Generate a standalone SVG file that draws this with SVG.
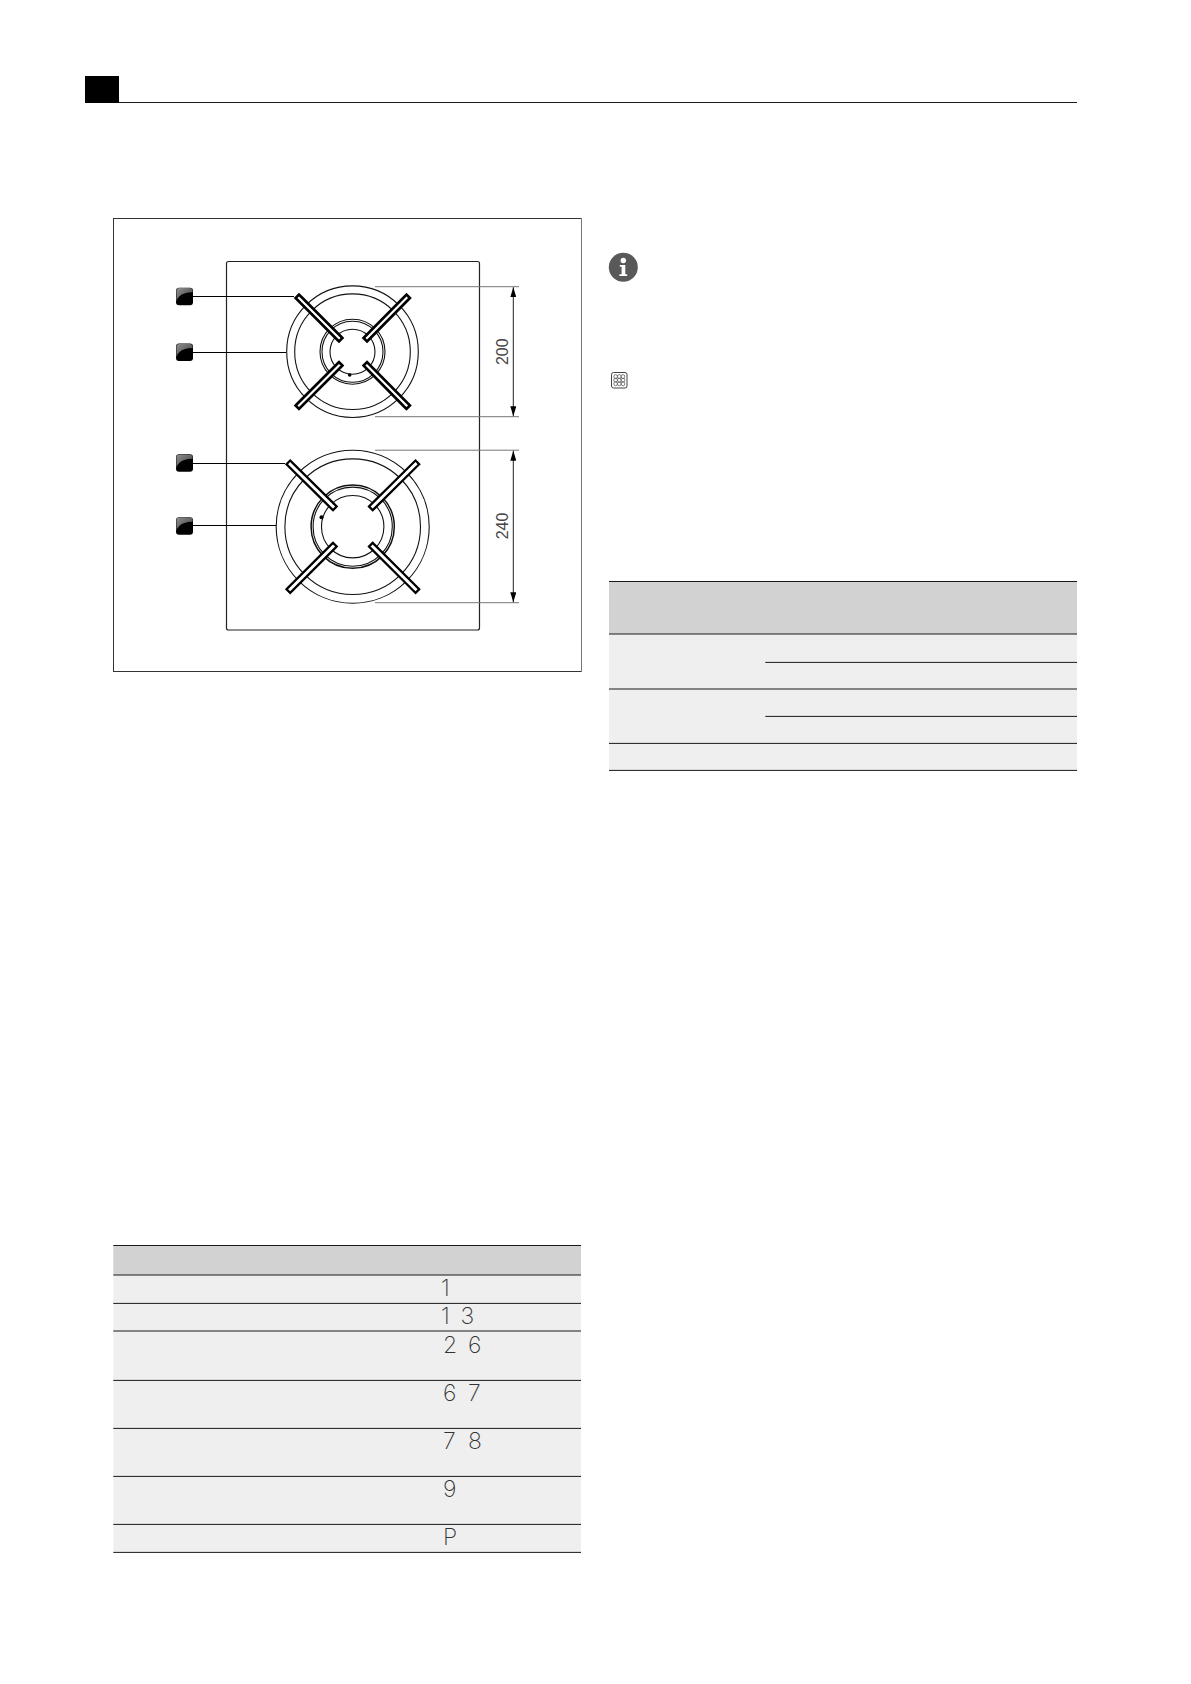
<svg xmlns="http://www.w3.org/2000/svg" width="1191" height="1684" viewBox="0 0 1191 1684">
<style>
.ring{fill:none;stroke:#111;stroke-width:1.1}
.thick{stroke-width:1.5}
.barO{stroke:#000;stroke-width:7.5;stroke-linecap:square;fill:none}
.barI{stroke:#fff;stroke-width:2.2;stroke-linecap:square;fill:none}
.barW{stroke-width:3}
.lead{stroke:#000;stroke-width:1;fill:none}
.ext{stroke:#777;stroke-width:1;fill:none}
.dim{stroke:#222;stroke-width:1;fill:none;marker-start:url(#ah);marker-end:url(#ah)}
.dimt{font:16px "Liberation Sans",Arial,sans-serif;fill:#444;text-anchor:middle}
.seg{font-family:Inter,"Liberation Sans",sans-serif;font-weight:200;font-size:23px;fill:#333}
.rule{stroke:#1a1a1a;stroke-width:1;fill:none}
.head{fill:#d2d2d2}
.body{fill:#efefef}
</style>
<defs>
<marker id="ah" viewBox="0 0 10 6" refX="10" refY="3" markerWidth="10" markerHeight="6" markerUnits="userSpaceOnUse" orient="auto-start-reverse"><path d="M0 0L10 3L0 6Z" fill="#000"/></marker>
<linearGradient id="kg" x1="0" y1="0" x2="1" y2="1"><stop offset="0" stop-color="#8f8f8f"/><stop offset="1" stop-color="#3a3a3a"/></linearGradient>
<g id="sq"><rect x="0" y="0" width="17" height="17.5" rx="3" fill="#000"/><path d="M0.4 14V3Q0.4 0.4 3 0.4H14Q16.6 0.4 16.6 3V4.5Q7 4.5 3 9Q1 11 0.4 14Z" fill="url(#kg)"/></g>
</defs>

<g id="header"><rect x="85" y="76" width="34" height="27" fill="#000"/><path class="rule" d="M119 102.5H1077"/></g>

<g id="frame"><rect x="113.5" y="218.5" width="468" height="453" fill="#fff" stroke="#333" stroke-width="1"/><path d="M581.5 218V672" stroke="#777" stroke-width="1" fill="none"/></g>
<g id="plate"><rect x="226.5" y="261.5" width="253" height="368.5" rx="2" fill="#fff" stroke="#222" stroke-width="1.2"/></g>

<g id="burner-1">
<circle class="ring" cx="352.5" cy="351.7" r="65.8"/><circle class="ring" cx="352.5" cy="351.7" r="57.8"/>
<circle class="ring" cx="352.5" cy="351.7" r="32.5"/><circle class="ring" cx="352.5" cy="351.7" r="30.5"/><circle class="ring" cx="352.5" cy="351.7" r="22.5"/>
<circle cx="349.7" cy="375" r="1.8" fill="#000"/>
<path class="barO" d="M299 298L339 338M406.5 298L367 338M299 405.5L339 365.5M406.5 405.5L367 365.5"/>
<path class="barI" d="M299 298L339 338M406.5 298L367 338M299 405.5L339 365.5M406.5 405.5L367 365.5"/>
</g>

<g id="burner-2">
<circle class="ring" cx="352.7" cy="526.7" r="76.5"/><circle class="ring" cx="352.7" cy="526.7" r="67.8"/>
<circle class="ring thick" cx="352.7" cy="526.7" r="41.6"/><circle class="ring" cx="352.7" cy="526.7" r="39.6"/><circle class="ring" cx="352.7" cy="526.7" r="31.2"/>
<circle cx="321.5" cy="517.3" r="2" fill="#000"/>
<path class="barO" d="M290.2 464.2L333 506.5M415.5 464.2L372.7 506.5M290.2 589.2L333 546.5M415.5 589.2L372.7 546.5"/>
<path class="barI barW" d="M290.2 464.2L333 506.5M415.5 464.2L372.7 506.5M290.2 589.2L333 546.5M415.5 589.2L372.7 546.5"/>
</g>

<g id="connectors">
<path class="lead" d="M193 296.5H294M193 352.5H286M193 463.5H285M193 525.5H276"/>
<path class="ext" d="M375 286.7H519M375 416.7H519M375 450.2H519M375 602.7H519"/>
<path class="dim" d="M513.3 287.2V416.2"/>
<path class="dim" d="M513.3 450.7V602.2"/>
</g>

<g id="callout-1"><use href="#sq" x="176" y="287.7"/></g>
<g id="callout-2"><use href="#sq" x="176" y="343.5"/></g>
<g id="callout-3"><use href="#sq" x="176" y="454.3"/></g>
<g id="callout-4"><use href="#sq" x="176" y="517.2"/></g>

<g id="dim-200"><text class="dimt" transform="translate(507.5 351.7) rotate(-90)">200</text></g>
<g id="dim-240"><text class="dimt" transform="translate(507.5 526) rotate(-90)">240</text></g>

<g id="info-icon"><circle cx="623.3" cy="267.3" r="14.5" fill="#595959"/><circle cx="623.3" cy="260.5" r="2.7" fill="#fff"/><path d="M619.8 265H625.3V274.2H627.2V276H619.4V274.2H621.6V266.8H619.8Z" fill="#fff"/></g>

<g id="heat-icon"><rect x="611.5" y="372.5" width="15.5" height="15.5" rx="2" fill="#fff" stroke="#444" stroke-width="1"/>
<g fill="none" stroke="#555" stroke-width="0.75">
<ellipse cx="615.6" cy="376.6" rx="1.8" ry="2"/><ellipse cx="619.3" cy="376.6" rx="1.8" ry="2"/><ellipse cx="623" cy="376.6" rx="1.8" ry="2"/>
<ellipse cx="615.6" cy="380.2" rx="1.8" ry="2"/><ellipse cx="619.3" cy="380.2" rx="1.8" ry="2"/><ellipse cx="623" cy="380.2" rx="1.8" ry="2"/>
<ellipse cx="615.6" cy="383.8" rx="1.8" ry="2"/><ellipse cx="619.3" cy="383.8" rx="1.8" ry="2"/><ellipse cx="623" cy="383.8" rx="1.8" ry="2"/>
</g></g>

<g id="table-right">
<rect class="head" x="609" y="581.5" width="468" height="52.5"/>
<rect class="body" x="609" y="634" width="468" height="136.5"/>
<path class="rule" d="M609 581.5H1077M609 634H1077M765.3 662.4H1077M609 689H1077M765.3 716.4H1077M609 743.4H1077M609 770.4H1077"/>
</g>

<g id="table-left">
<rect class="head" x="113.3" y="1245.5" width="467.7" height="29.5"/>
<rect class="body" x="113.3" y="1275" width="467.7" height="277.5"/>
<path class="rule" d="M113.3 1245.5H581M113.3 1275H581M113.3 1303.4H581M113.3 1331H581M113.3 1380.4H581M113.3 1428.4H581M113.3 1476.4H581M113.3 1524.4H581M113.3 1552.4H581"/>
<text class="seg" x="441" y="1296">1</text>
<text class="seg" x="441 451 460.5" y="1324">1 3</text>
<text class="seg" x="443 456 468" y="1352.7">2 6</text>
<text class="seg" x="443 456 468" y="1400.7">6 7</text>
<text class="seg" x="443 456 468" y="1448.7">7 8</text>
<text class="seg" x="443" y="1496.7">9</text>
<text class="seg" x="443" y="1544.7">P</text>
</g>
</svg>
